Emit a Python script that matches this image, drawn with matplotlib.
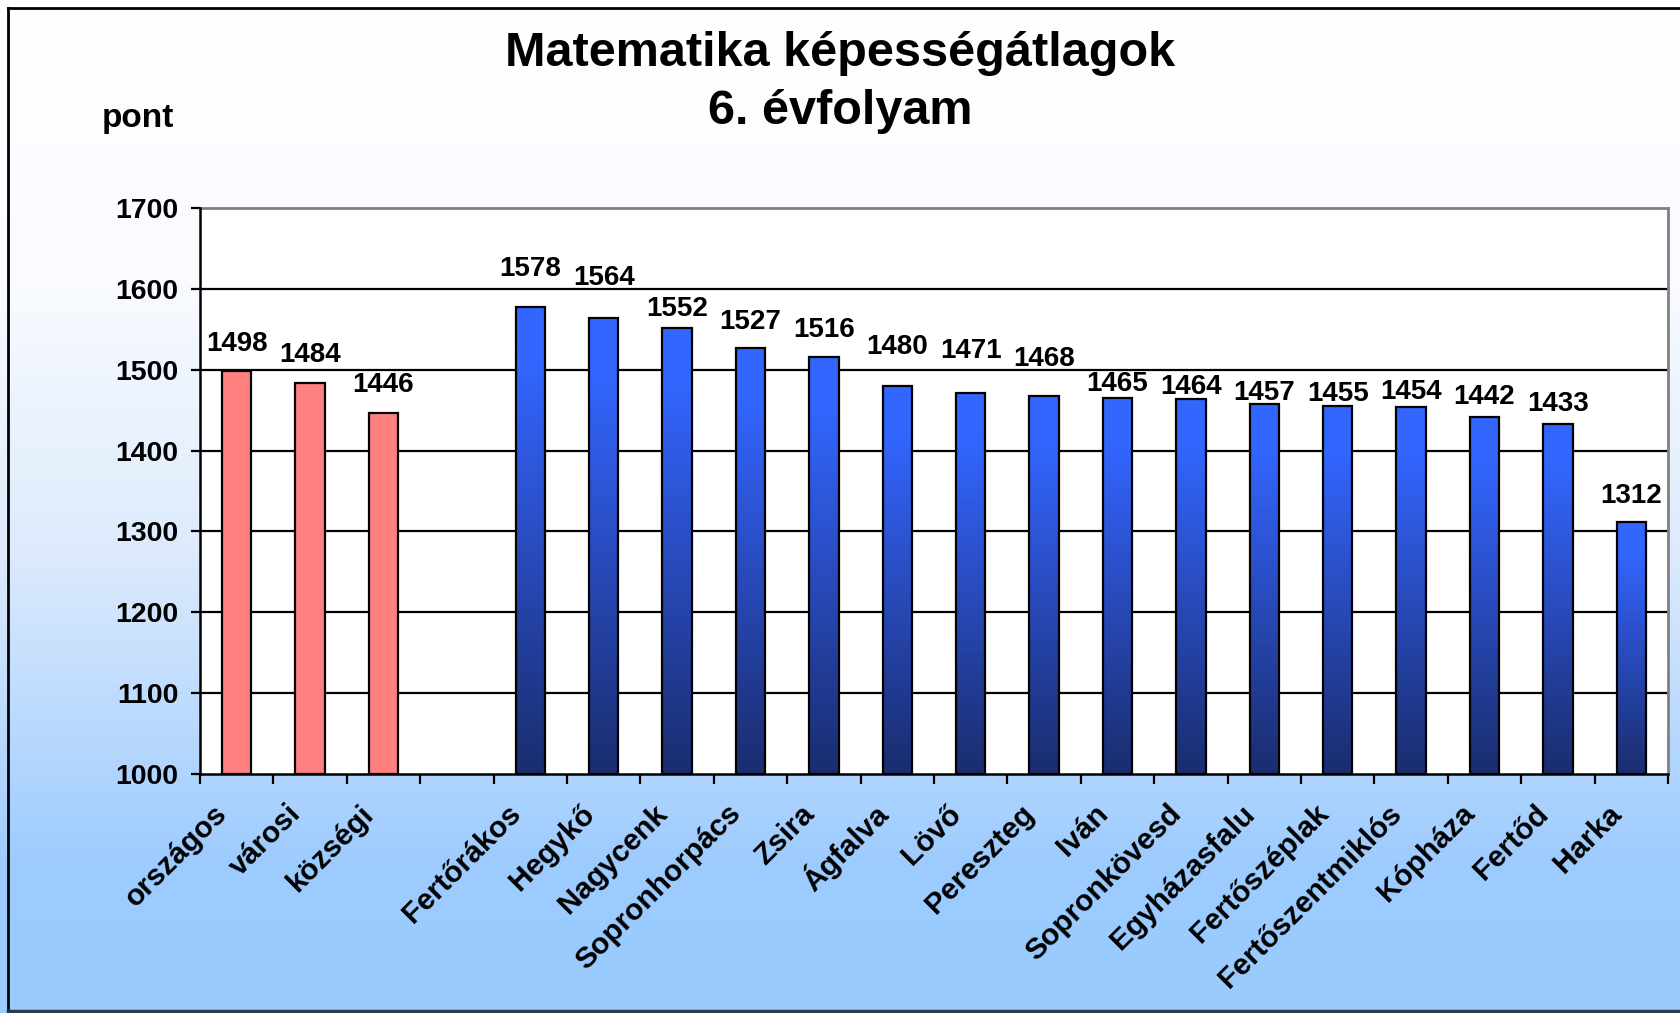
import numpy as np
import matplotlib
matplotlib.use("Agg")
import matplotlib.pyplot as plt
from matplotlib.colors import LinearSegmentedColormap
from matplotlib.transforms import ScaledTranslation
from matplotlib.lines import Line2D

# ---------------- data ----------------
title = "Matematika képességátlagok\n6. évfolyam"
y_label = "pont"
ref_categories = ["országos", "városi", "községi"]
ref_values = [1498, 1484, 1446]
school_categories = ["Fertőrákos", "Hegykő", "Nagycenk", "Sopronhorpács", "Zsira",
                     "Ágfalva", "Lövő", "Pereszteg", "Iván", "Sopronkövesd",
                     "Egyházasfalu", "Fertőszéplak", "Fertőszentmiklós", "Kópháza",
                     "Fertőd", "Harka"]
school_values = [1578, 1564, 1552, 1527, 1516, 1480, 1471, 1468, 1465, 1464,
                 1457, 1455, 1454, 1442, 1433, 1312]
y_ticks = [1000, 1100, 1200, 1300, 1400, 1500, 1600, 1700]

# label gaps above bar tops (pixels), styling only
ref_label_gap = [20, 21, 21]
school_label_gap = [31, 33, 12, 19, 20, 32, 35, 30, 7, 5, 4, 5, 8, 13, 13, 19]

plt.rcParams['font.family'] = ['Liberation Sans', 'DejaVu Sans']
plt.rcParams['font.weight'] = 'bold'

W, H, DPI = 1680, 1013, 100
fig = plt.figure(figsize=(W / DPI, H / DPI), dpi=DPI)

# ---------------- background gradient ----------------
bg = fig.add_axes([0, 0, 1, 1], zorder=-10)
bg.set_axis_off()
stops = [(0.0, "#FFFFFF"), (0.28, "#F9FBFF"), (0.55, "#DCEAFC"),
         (0.86, "#9CCBFF"), (1.0, "#99CCFF")]
bg_cmap = LinearSegmentedColormap.from_list("bg", stops)
grad = np.linspace(0, 1, 512).reshape(-1, 1)
bg.imshow(grad, aspect='auto', cmap=bg_cmap, extent=[0, 1, 0, 1], origin='upper')
bg.set_xlim(0, 1)
bg.set_ylim(0, 1)

# figure border
def fx(px):
    return px / W

def fy(py):
    return 1 - py / H

fig.add_artist(Line2D([fx(8), fx(8)], [fy(8), fy(1011)], color="black", lw=2, transform=fig.transFigure))
fig.add_artist(Line2D([fx(8), 1], [fy(8), fy(8)], color="black", lw=2, transform=fig.transFigure))
fig.add_artist(Line2D([fx(8), 1], [fy(1011), fy(1011)], color="#2B3A4A", lw=2.5, transform=fig.transFigure))

# ---------------- main axes ----------------
ax = fig.add_axes([fx(200), fy(774), (1668 - 200) / W, (774 - 208) / H])
ax.set_facecolor("white")

categories = ref_categories + [""] + school_categories
n = len(categories)
ref_x = np.arange(len(ref_categories))
school_x = np.arange(len(school_categories)) + len(ref_categories) + 1
bw = 0.4

ax.set_xlim(-0.5, n - 0.5)
ax.set_ylim(y_ticks[0], y_ticks[-1])

# gridlines
for yv in y_ticks[1:-1]:
    ax.axhline(yv, color="black", lw=1.6, zorder=1)
ax.axhline(y_ticks[-1], color="#808080", lw=2, zorder=1, clip_on=False)

# pink bars
ax.bar(ref_x, [v - y_ticks[0] for v in ref_values], bottom=y_ticks[0], width=bw,
       color="#FF8080", edgecolor="black", linewidth=1.6, zorder=3)

# blue gradient bars
blue_cmap = LinearSegmentedColormap.from_list(
    "blue", [(0.0, "#3366FF"), (0.12, "#3366FF"), (0.55, "#2849B8"), (1.0, "#1A2D6E")])
bars = ax.bar(school_x, [v - y_ticks[0] for v in school_values], bottom=y_ticks[0],
              width=bw, facecolor="none", edgecolor="black", linewidth=1.6, zorder=4)
g = np.linspace(0, 1, 256).reshape(-1, 1)
for xb, v, rect in zip(school_x, school_values, bars):
    im = ax.imshow(g, aspect='auto', cmap=blue_cmap, origin='upper',
                   extent=[xb - bw / 2, xb + bw / 2, y_ticks[0], v], zorder=3)
    im.set_clip_path(rect)
ax.set_xlim(-0.5, n - 0.5)
ax.set_ylim(y_ticks[0], y_ticks[-1])

# value labels
for xs, vs, gaps in ((ref_x, ref_values, ref_label_gap), (school_x, school_values, school_label_gap)):
    for xb, v, gp in zip(xs, vs, gaps):
        ax.annotate(f"{v}", (xb, v), xytext=(0, gp * 72 / DPI), textcoords="offset points",
                    ha="center", va="baseline", fontsize=20, fontweight="bold",
                    zorder=6, annotation_clip=False)

# spines
ax.spines["top"].set_visible(False)
ax.spines["right"].set_color("#808080")
ax.spines["right"].set_linewidth(2)
ax.spines["left"].set_linewidth(1.8)
ax.spines["bottom"].set_linewidth(1.8)

# y ticks
ax.set_yticks(y_ticks)
ax.set_yticklabels([str(t) for t in y_ticks], fontsize=20.5, fontweight="bold")
ax.tick_params(axis="y", length=6.5, width=1.6, pad=9, direction="out")

# x ticks: labels at centers, marks at boundaries
ax.set_xticks(np.arange(n))
ax.set_xticks(np.arange(n + 1) - 0.5, minor=True)
ax.tick_params(axis="x", which="major", length=0, pad=14)
ax.tick_params(axis="x", which="minor", length=7, width=1.6, direction="out")
ax.set_xticklabels(categories, rotation=45, ha="right", va="center",
                   rotation_mode="anchor", fontsize=21.5, fontweight="bold")
off = ScaledTranslation(-10 / 72, -11.5 / 72, fig.dpi_scale_trans)
for lab in ax.get_xticklabels():
    lab.set_transform(lab.get_transform() + off)

# title and axis label
fig.text(0.5, fy(54), title.split("\n")[0], ha="center", va="center",
         fontsize=35, fontweight="bold")
fig.text(0.5, fy(111), title.split("\n")[1], ha="center", va="center",
         fontsize=35, fontweight="bold")
fig.text(fx(138), fy(118), y_label, ha="center", va="center", fontsize=24, fontweight="bold")

fig.savefig("out.png", dpi=DPI)
